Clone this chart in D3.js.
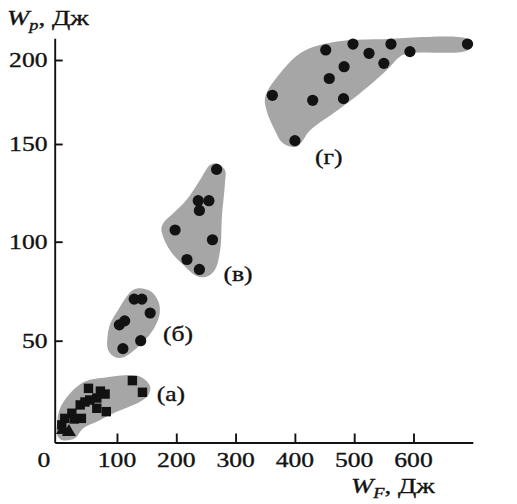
<!DOCTYPE html>
<html><head><meta charset="utf-8">
<script src="https://cdn.jsdelivr.net/npm/d3@7"></script>
<style>body{margin:0;background:#fff}svg{display:block}</style>
</head><body><svg id="c" width="517" height="504"></svg>
<script>
// ---- data ----
const xTickValues = [100, 200, 300, 400, 500, 600];
const xTickLabels = ["100", "200", "300", "400", "500", "600"];
const yTickValues = [50, 100, 150, 200];
const yTickLabels = ["50", "100", "150", "200"];
const originLabel = "0";
const groupLabels = ["(а)", "(б)", "(в)", "(г)"];
const groupLabelPos = [[191, 19.5], [203, 50], [304, 80], [457, 140]];

// group (а): squares and triangles
const squaresA = [[126, 29.8], [143, 23.9], [52, 25.9], [80, 23.0], [66, 21.0], [54, 20.0], [72, 24.5],
  [38, 17.5], [66, 15.8], [82, 14.1], [24, 13.3], [12, 10.7], [28, 10.4], [40, 10.7], [7, 7.4], [46, 19]];
const trianglesA = [[9, 4.8], [19, 3.8]];
// group (б)
const pointsB = [[129, 71], [142, 71], [156, 64], [104, 58], [113, 60], [140, 50], [110, 46]];
// group (в)
const pointsV = [[268, 137], [237, 121], [255, 121], [239, 116], [198, 106], [261, 101], [218, 91], [239, 86]];
// group (г)
const pointsG = [[362, 179], [400, 152], [430, 176], [482, 177], [458, 189], [483, 196], [452, 206],
  [498, 209.5], [525, 204], [550, 198], [562, 209.5], [594, 205], [691, 209.5]];

// outlines of the shaded regions
const regionA = [[4, 15.8], [21, 23.4], [46, 29.3], [83, 31.5], [127, 32.6], [144, 31.0], [156, 26.7],
  [153, 22.5], [139, 19.1], [94, 13.3], [66, 9.0], [43, 5.7], [29, 0.6], [7, -0.2], [-1, 2.3], [-1, 8.2]];
const regionB = [[139, 76.5], [158, 74.7], [170, 69.7], [172, 63.8], [164, 57.1], [150, 51.2], [133, 46.2],
  [111, 41.6], [97, 41.6], [85, 45.3], [84, 52.0], [89, 58.8], [102, 65.5], [116, 72.2], [127, 75.6]];
const regionV = [[268, 140], [282, 136.7], [282, 129.9], [277, 112.8], [274, 95.8], [265, 85.7], [251, 82.3],
  [234, 82.7], [212, 88.2], [189, 95.8], [175, 106], [178, 109.4], [195, 114.5], [217, 121.3], [240, 131.6], [257, 139.3]];
const regionG = [[350, 178.2], [375, 192.1], [409, 204], [442, 208.9], [482, 211.5], [538, 212.3], [690, 212.9],
  [701, 209.5], [690, 205.5], [594, 204], [577, 202], [555, 194], [510, 180.2], [465, 168.3], [426, 158.3],
  [403, 148.6], [380, 150.4], [366, 158.3], [352, 170.2]];

const xTitle = {main: "W", sub: "F", rest: ", Дж"};
const yTitle = {main: "W", sub: "p", rest: ", Дж"};

// ---- drawing ----
const svg = d3.select("#c");
const x = d3.scaleLinear().domain([-5, 700]).range([54.7, 472.8]);
const y = d3.scaleLinear().domain([-1.5, 50, 100, 150, 200, 213]).range([442.5, 340.7, 241.7, 144, 60, 38.2]);

const ink = "#121212";
const FONT = "'Liberation Serif','Times New Roman',serif";
const SX = 1.22;

const area = d3.line().x(d => x(d[0])).y(d => y(d[1])).curve(d3.curveCatmullRomClosed.alpha(0.5));
[regionA, regionB, regionV, regionG].forEach(r => {
  svg.append("path").attr("d", area(r)).attr("fill", "#a6a6a6").attr("stroke", "none");
});

// axes
const gx = svg.append("g").attr("transform", `translate(0,${y(-1.5)})`)
  .call(d3.axisBottom(x).tickValues(xTickValues).tickSizeInner(-9).tickSizeOuter(0).tickFormat(""));
const gy = svg.append("g").attr("transform", `translate(${x(-5)},0)`)
  .call(d3.axisLeft(y).tickValues(yTickValues).tickSizeInner(-8).tickSizeOuter(0).tickFormat(""));
[gx, gy].forEach(g => {
  g.selectAll("path,line").attr("stroke", ink).attr("stroke-width", 1.9);
});

function label(px, py, str, anchor) {
  svg.append("g").attr("transform", `translate(${px},${py}) scale(${SX},1)`)
    .append("text").attr("text-anchor", anchor).attr("font-family", FONT)
    .attr("font-size", 21).attr("fill", ink).attr("stroke", ink).attr("stroke-width", 0.35).text(str);
}
xTickValues.forEach((v, i) => label(x(v), 466.5, xTickLabels[i], "middle"));
label(44, 466.5, originLabel, "middle");
yTickValues.forEach((v, i) => label(47.5, y(v) + 7, yTickLabels[i], "end"));
groupLabels.forEach((t, i) => label(x(groupLabelPos[i][0]), y(groupLabelPos[i][1]), t, "middle"));

function title(px, py, t) {
  const tx = svg.append("g").attr("transform", `translate(${px},${py}) scale(${SX},1)`)
    .append("text").attr("font-family", FONT).attr("font-size", 22).attr("fill", ink)
    .attr("stroke", ink).attr("stroke-width", 0.35);
  tx.append("tspan").attr("font-style", "italic").text(t.main);
  tx.append("tspan").attr("font-style", "italic").attr("font-size", 15).attr("dy", 5).text(t.sub);
  tx.append("tspan").attr("dy", -5).text(t.rest);
}
title(7, 25, yTitle);
title(351, 493, xTitle);

// markers
const circ = [...pointsB, ...pointsV, ...pointsG];
svg.append("g").selectAll("circle").data(circ).join("circle")
  .attr("cx", d => x(d[0])).attr("cy", d => y(d[1])).attr("r", 5.6).attr("fill", ink);
svg.append("g").selectAll("rect").data(squaresA).join("rect")
  .attr("x", d => x(d[0]) - 4.7).attr("y", d => y(d[1]) - 4.7).attr("width", 9.4).attr("height", 9.4).attr("fill", ink);
const tri = d3.symbol().type(d3.symbolTriangle).size(85);
svg.append("g").selectAll("path").data(trianglesA).join("path")
  .attr("transform", d => `translate(${x(d[0])},${y(d[1])})`).attr("d", tri).attr("fill", ink);
</script></body></html>
